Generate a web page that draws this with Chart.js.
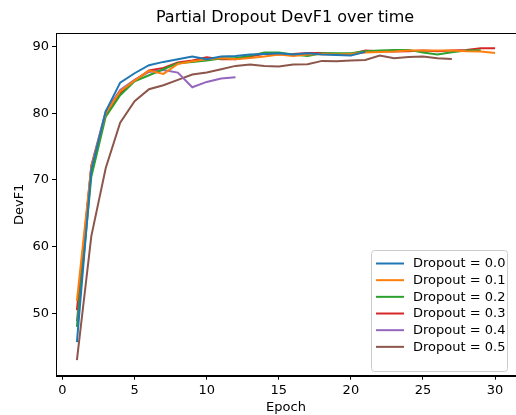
<!DOCTYPE html>
<html>
<head>
<meta charset="utf-8">
<script src="https://cdn.jsdelivr.net/npm/chart.js@4/dist/chart.umd.min.js"></script>
<style>
  html, body { margin: 0; padding: 0; background: #fff; }
  #wrap { width: 516px; height: 415px; position: relative; }
</style>
</head>
<body>
<div id="wrap"><canvas id="c" width="516" height="415"></canvas></div>
<script>
const titleText = "Partial Dropout DevF1 over time";
const xLabel = "Epoch";
const yLabel = "DevF1";
const xTicks = [0, 5, 10, 15, 20, 25, 30];
const yTicks = [50, 60, 70, 80, 90];
const seriesLabels = ["Dropout = 0.0", "Dropout = 0.1", "Dropout = 0.2", "Dropout = 0.3", "Dropout = 0.4", "Dropout = 0.5"];
const seriesColors = ["#1f77b4", "#ff7f0e", "#2ca02c", "#d62728", "#9467bd", "#8c564b"];

const d00 = [45.7, 71.5, 80.3, 84.6, 86.0, 87.2, 87.7, 88.1, 88.5, 88.1, 88.5, 88.6, 88.8, 88.9, 89.0, 88.8, 89.0, 88.8, 88.75, 88.65, 89.2];
const d01 = [51.9, 72.0, 80.0, 83.3, 84.9, 86.4, 85.9, 87.4, 87.8, 88.1, 88.3, 88.1, 88.3, 88.5, 88.8, 88.6, 88.8, 88.9, 88.8, 88.9, 89.1, 89.2, 89.25, 89.4, 89.4, 89.4, 89.4, 89.3, 89.25, 89.05];
const d02 = [48.0, 70.5, 79.5, 82.7, 84.8, 85.7, 86.6, 87.5, 87.7, 87.9, 88.2, 88.3, 88.6, 89.1, 89.1, 88.8, 88.6, 89.0, 89.0, 89.0, 89.3, 89.4, 89.5, 89.5, 89.1, 88.8, 89.15, 89.4, 89.45];
const d03 = [50.5, 72.0, 79.8, 83.0, 84.9, 86.4, 86.8, 87.6, 87.9, 88.4, 88.1, 88.1, 88.5, 88.9, 88.8, 88.9, 89.05, 89.05, 88.9, 88.9, 89.4, 89.3, 89.25, 89.3, 89.4, 89.3, 89.4, 89.5, 89.75, 89.75];
const d04 = [48.8, 72.2, 80.3, 83.5, 85.0, 86.2, 86.5, 86.1, 83.9, 84.7, 85.2, 85.4];
const d05 = [43.0, 61.6, 71.8, 78.6, 81.8, 83.6, 84.2, 85.0, 85.8, 86.1, 86.6, 87.1, 87.3, 87.1, 87.0, 87.3, 87.35, 87.85, 87.8, 87.9, 88.0, 88.65, 88.25, 88.45, 88.5, 88.25, 88.15];

const allSeries = [d00, d01, d02, d03, d04, d05];
const FONT = "'DejaVu Sans', sans-serif";

const datasets = allSeries.map((arr, i) => ({
  label: seriesLabels[i],
  data: arr.map((v, k) => ({ x: k + 1, y: v })),
  borderColor: seriesColors[i],
  backgroundColor: seriesColors[i],
  borderWidth: 2,
  pointRadius: 0,
  tension: 0,
  fill: false
}));

const framePlugin = {
  id: 'frameLegend',
  afterDatasetsDraw(chart) {
    const ctx = chart.ctx;
    const a = chart.chartArea;
    ctx.save();
    ctx.strokeStyle = '#000';
    ctx.lineWidth = 1;
    ctx.strokeRect(Math.round(a.left) + 0.5, Math.round(a.top) + 0.5, Math.round(a.right - a.left), Math.round(a.bottom - a.top));
    // title
    ctx.fillStyle = '#000';
    ctx.font = "16px " + FONT;
    ctx.textAlign = 'center';
    ctx.textBaseline = 'middle';
    ctx.fillText(titleText, (a.left + a.right) / 2 - 1, 18);
    // legend
    const bx = 371.5, by = 250.5, bw = 136, bh = 121;
    ctx.fillStyle = 'rgba(255,255,255,0.8)';
    ctx.strokeStyle = '#cccccc';
    ctx.lineWidth = 1;
    ctx.beginPath();
    if (ctx.roundRect) ctx.roundRect(bx, by, bw, bh, 3); else ctx.rect(bx, by, bw, bh);
    ctx.fill();
    ctx.stroke();
    ctx.font = "13px " + FONT;
    ctx.textBaseline = 'middle';
    ctx.textAlign = 'left';
    chart.data.datasets.forEach((ds, i) => {
      const yy = 263.5 + i * 16.67;
      ctx.strokeStyle = ds.borderColor;
      ctx.lineWidth = 2;
      ctx.beginPath();
      ctx.moveTo(376, yy);
      ctx.lineTo(404, yy);
      ctx.stroke();
      ctx.fillStyle = '#000';
      ctx.fillText(ds.label, 413, yy + 0.5);
    });
    ctx.restore();
  }
};

new Chart(document.getElementById('c'), {
  type: 'line',
  data: { datasets },
  plugins: [framePlugin],
  options: {
    responsive: false,
    animation: false,
    devicePixelRatio: 1,
    layout: { padding: { left: 0, right: 0, top: 33, bottom: 0 } },
    plugins: {
      legend: { display: false },
      tooltip: { enabled: false },
      title: { display: false }
    },
    scales: {
      x: {
        type: 'linear',
        min: -0.45,
        max: 31.45,
        afterBuildTicks(scale) { scale.ticks = xTicks.map(v => ({ value: v })); },
        afterFit(scale) { scale.height = 39.3; },
        ticks: { color: '#000', font: { family: FONT, size: 13 }, padding: 3, maxRotation: 0, autoSkip: false },
        grid: { display: true, drawOnChartArea: false, drawTicks: true, tickLength: 4, color: '#000', lineWidth: 1 },
        border: { display: true, color: '#000', width: 1 },
        title: { display: true, text: xLabel, color: '#000', font: { family: FONT, size: 13 }, padding: { top: 0, bottom: 0 } }
      },
      y: {
        type: 'linear',
        min: 40.67,
        max: 92.03,
        afterBuildTicks(scale) { scale.ticks = yTicks.map(v => ({ value: v })); },
        afterFit(scale) { scale.width = 56; },
        ticks: { color: '#000', font: { family: FONT, size: 13 }, padding: 3, autoSkip: false },
        grid: { display: true, drawOnChartArea: false, drawTicks: true, tickLength: 4, color: '#000', lineWidth: 1 },
        border: { display: true, color: '#000', width: 1 },
        title: { display: true, text: yLabel, color: '#000', font: { family: FONT, size: 13 }, padding: { top: 12, bottom: 0 } }
      }
    }
  }
});
</script>
</body>
</html>
